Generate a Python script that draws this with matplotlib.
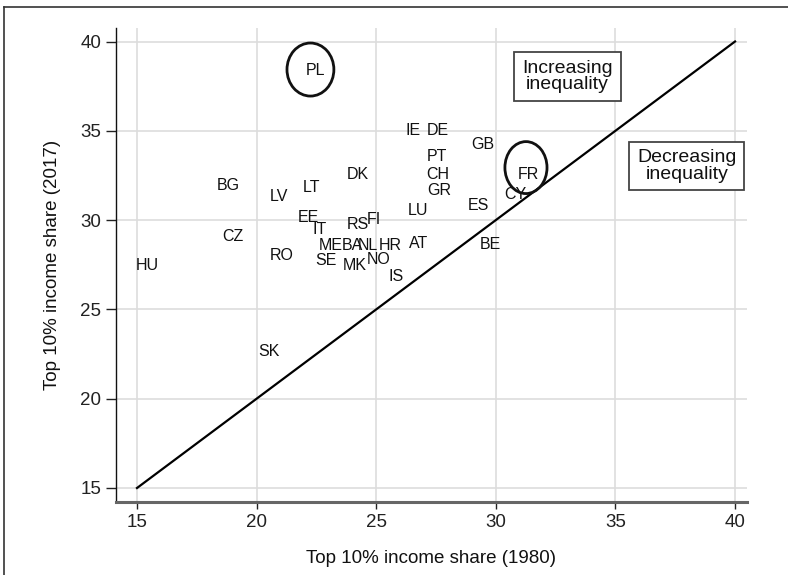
import matplotlib
matplotlib.use("Agg")
import matplotlib.pyplot as plt
from matplotlib.patches import Ellipse
from matplotlib.lines import Line2D

plt.rcParams['font.family'] = ['Liberation Sans', 'DejaVu Sans']

countries = ["HU", "CZ", "BG", "RO", "LV", "LT", "SK", "PL", "EE", "IT", "ME", "SE",
             "BA", "NL", "MK", "NO", "RS", "FI", "HR", "AT", "IS", "LU", "DK", "IE",
             "DE", "PT", "CH", "GR", "GB", "ES", "BE", "CY", "FR"]
share_1980 = [15.42, 19.01, 18.83, 21.04, 20.92, 22.30, 20.52, 22.46, 22.17, 22.65, 23.09, 22.90,
              24.01, 24.66, 24.09, 25.12, 24.22, 24.89, 25.58, 26.77, 25.85, 26.75, 24.24, 26.56,
              27.58, 27.54, 27.58, 27.65, 29.44, 29.26, 29.76, 30.82, 31.37]
share_2017 = [27.46, 29.08, 31.91, 28.02, 31.32, 31.80, 22.67, 38.39, 30.17, 29.47, 28.58, 27.74,
              28.58, 28.58, 27.46, 27.77, 29.75, 30.03, 28.58, 28.69, 26.84, 30.52, 32.58, 35.04,
              34.99, 33.56, 32.55, 31.63, 34.26, 30.82, 28.63, 31.43, 32.55]
diag = [15, 40]
ticks = [15, 20, 25, 30, 35, 40]

fig = plt.figure(figsize=(7.88, 5.75), dpi=100)
ax = fig.add_axes([116/788, 1-502/575, 631/788, 474/575])

ax.set_xlim(14.122, 40.50)
ax.set_ylim(14.216, 40.756)

ax.grid(True, color='#dddddd', lw=1.2, zorder=0)
ax.set_axisbelow(True)

ax.plot(diag, diag, color='black', lw=1.6, zorder=2)

for c, x, y in zip(countries, share_1980, share_2017):
    ax.text(x, y, c, ha='center', va='center', fontsize=11.5, color='#111111', zorder=3)

ax.add_patch(Ellipse((22.25, 38.43), 1.96, 2.97, fill=False, ec='#111111', lw=2, zorder=4))
ax.add_patch(Ellipse((31.26, 32.94), 1.76, 2.91, fill=False, ec='#111111', lw=2, zorder=4))

box = dict(boxstyle='square,pad=0.4', fc='white', ec='#444444', lw=1.3)
ax.text(33.0, 38.04, "Increasing\ninequality", ha='center', va='center', fontsize=14,
        color='#111111', bbox=box, linespacing=0.95, zorder=5)
ax.text(37.99, 33.03, "Decreasing\ninequality", ha='center', va='center', fontsize=14,
        color='#111111', bbox=box, linespacing=0.95, zorder=5)

ax.set_xticks(ticks)
ax.set_yticks(ticks)
ax.tick_params(axis='both', labelsize=13.5, colors='#222222', direction='out')
ax.tick_params(axis='y', length=7, width=1)
ax.tick_params(axis='x', length=5, width=1)

for s in ['top', 'right']:
    ax.spines[s].set_visible(False)
ax.spines['left'].set_color('#111111')
ax.spines['left'].set_linewidth(1)
ax.spines['bottom'].set_color('#666666')
ax.spines['bottom'].set_linewidth(2.2)

ax.set_xlabel("Top 10% income share (1980)", fontsize=13.5, color='#111111', labelpad=14)
ax.set_ylabel("Top 10% income share (2017)", fontsize=13.5, color='#111111', labelpad=14)

fig.add_artist(Line2D([4/788, 1.0], [1-7/575, 1-7/575], color='#333333', lw=1.2, transform=fig.transFigure))
fig.add_artist(Line2D([4/788, 4/788], [0.0, 1-7/575], color='#333333', lw=1.2, transform=fig.transFigure))

fig.savefig("out.png", dpi=100)
